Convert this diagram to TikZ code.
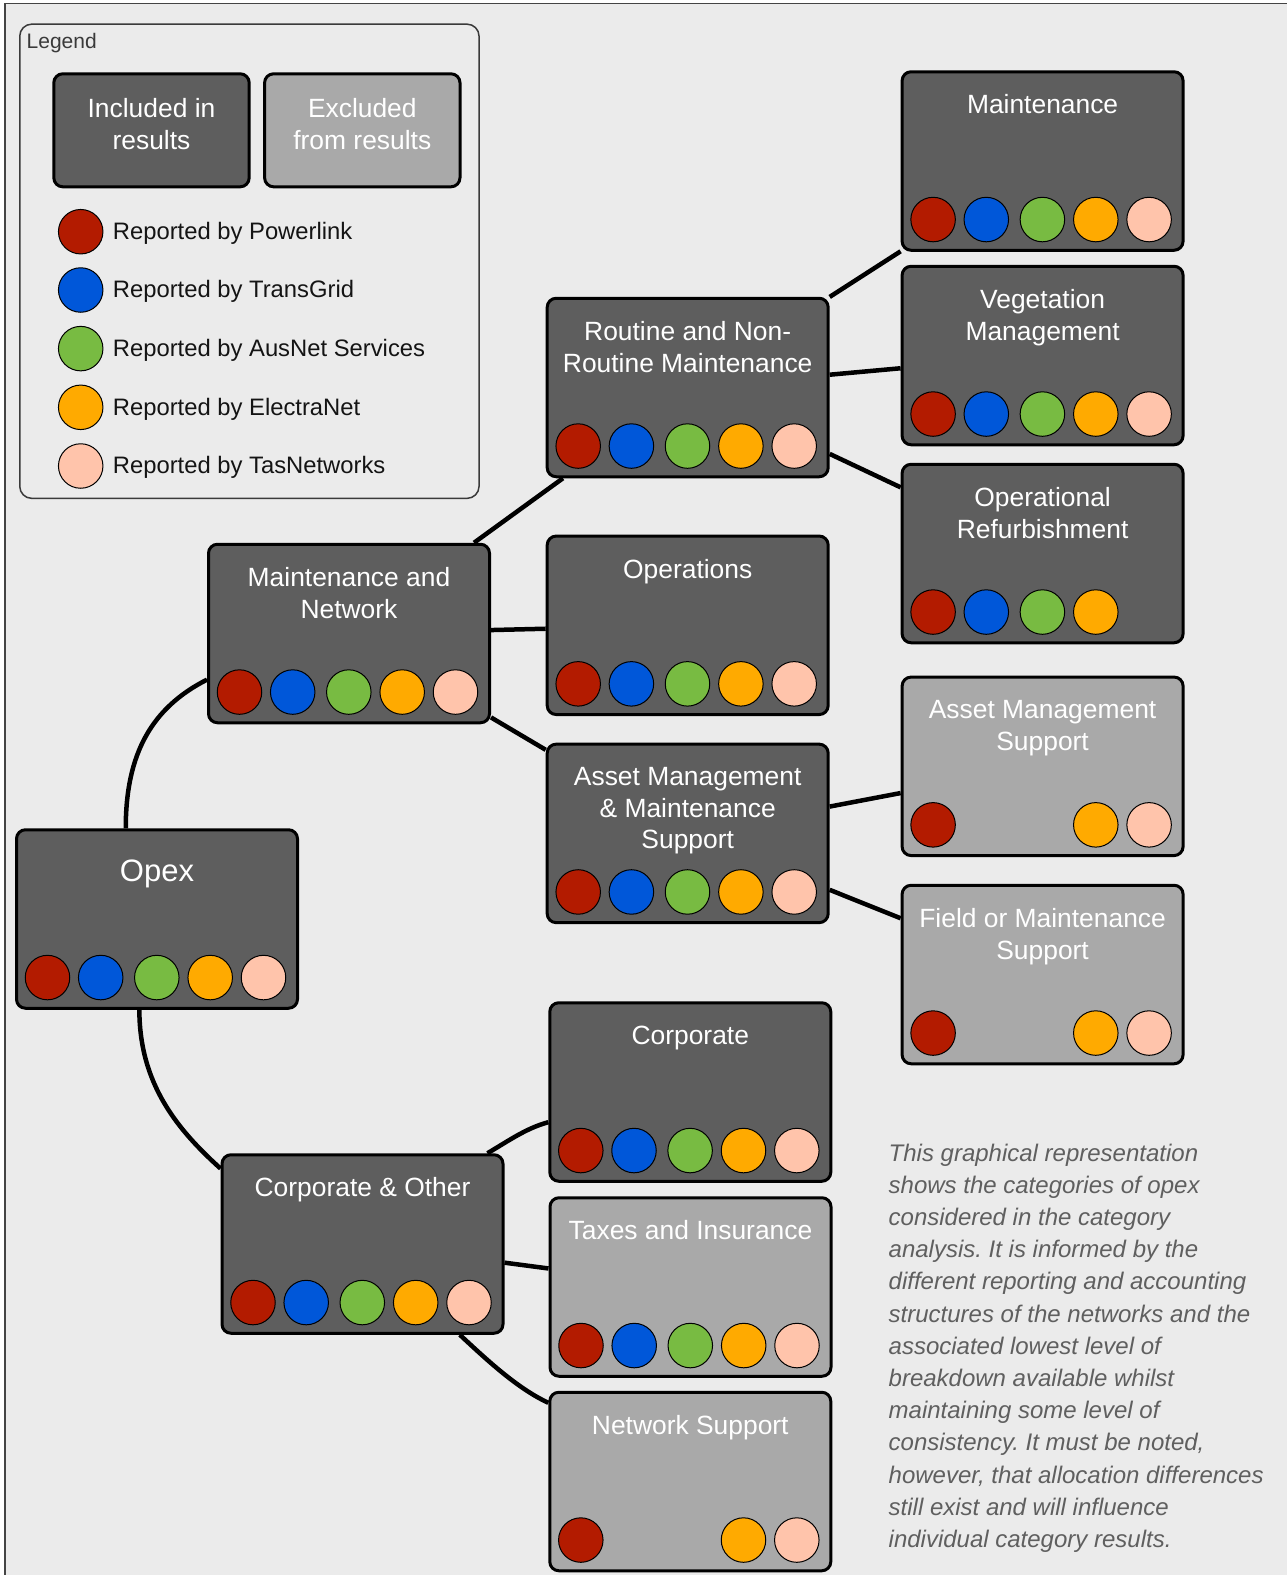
\documentclass[tikz,border=0pt]{standalone}
\usepackage{fontspec}
\setmainfont{Liberation Sans}
\usetikzlibrary{calc}
\pgfdeclarelayer{bg}
\pgfsetlayers{bg,main}
\frenchspacing
\definecolor{bgc}{HTML}{EBEBEB}
\definecolor{darkbox}{HTML}{5E5E5E}
\definecolor{lightbox}{HTML}{A9A9A9}
\definecolor{slot1}{HTML}{B31B00}
\definecolor{slot2}{HTML}{0057D9}
\definecolor{slot3}{HTML}{78BB42}
\definecolor{slot4}{HTML}{FFAA00}
\definecolor{slot5}{HTML}{FFC4AB}
\definecolor{paratext}{HTML}{5F5F5F}
\definecolor{leggray}{HTML}{3A3A3A}
\definecolor{framegray}{HTML}{444444}
\tikzset{
  catbox/.style={draw=black, line width=3pt, rounded corners=9pt, minimum width=281pt, minimum height=178.5pt, inner sep=0pt},
  incbox/.style={catbox, fill=darkbox},
  excbox/.style={catbox, fill=lightbox},
  boxtitle/.style={text=white, font=\fontsize{26.4}{31.8}\selectfont, align=center, inner sep=0pt, anchor=north},
  dot/.style={circle, draw=black, line width=1pt, minimum size=44.5pt, inner sep=0pt},
  link/.style={line width=4.5pt, draw=black},
  legtext/.style={anchor=base west, inner sep=0pt, text=black!92, font=\fontsize{23.8}{28}\selectfont},
}
\def\allfive{1/32.5,2/85.7,3/141.8,4/195.2,5/248.5}
\def\nopeach{1/32.5,2/85.7,3/141.8,4/195.2}
\def\rop{1/32.5,4/195.2,5/248.5}
\newcommand\dotrow[2]{\foreach \k/\xo in #2 {\node[dot, fill=slot\k] (#1-\k) at ([xshift=\xo pt, yshift=32.2pt]#1.south west) {};}}
\newcommand\catnode[5]{%
  \node[#2] (#1) at (#3) {};
  \node[boxtitle] (#1-t) at ([yshift=-24.3pt]#1.north) {#4};
  \dotrow{#1}{#5}}
\begin{document}
\begin{tikzpicture}[x=1pt,y=-1pt]
\useasboundingbox (0,0) rectangle (1287,1575);

% legend
\node[draw=leggray, line width=1.5pt, rounded corners=12pt, minimum width=459.3pt, minimum height=474.2pt, anchor=north west, inner sep=0pt] (legend) at (19,23.4) {};
\node[anchor=base west, inner sep=0pt, text=leggray, font=\fontsize{21}{25}\selectfont] (legend-t) at (26.5,48.5) {Legend};
\node[incbox, minimum width=195.4pt, minimum height=113pt] (leginc) at (151.5,130.3) {};
\node[boxtitle] (leginc-t) at ([yshift=-25.8pt]leginc.north) {Included in\\results};
\node[excbox, minimum width=195.4pt, minimum height=113pt] (legexc) at (362.3,130.3) {};
\node[boxtitle] (legexc-t) at ([yshift=-25.8pt]legexc.north) {Excluded\\from results};
\foreach \k/\yy/\lab in {1/231.7/Powerlink, 2/290/TransGrid, 3/348.6/AusNet Services, 4/407.3/ElectraNet, 5/466/TasNetworks} {
  \node[dot, fill=slot\k] (leg-\k) at (80.7,\yy) {};
  \node[legtext] (leg-\k-t) at (112.7,\yy+7.8) {Reported by \lab};
}

% category boxes
\node[incbox] (opex) at (157,919) {};
\node[boxtitle, font=\fontsize{31}{37}\selectfont] (opex-t) at ([yshift=-31pt]opex.north) {Opex};
\dotrow{opex}{\allfive}

\catnode{mn}{incbox}{349,633.5}{Maintenance and\\Network}{\allfive}
\catnode{co}{incbox}{362.5,1244}{Corporate \& Other}{\allfive}
\catnode{rt}{incbox}{687.7,387.5}{Routine and Non-\\Routine Maintenance}{\allfive}
\catnode{op}{incbox}{687.7,625.3}{Operations}{\allfive}
\catnode{amm}{incbox}{687.7,833.4}{Asset Management\\\& Maintenance\\Support}{\allfive}
\catnode{mt}{incbox}{1042.6,161}{Maintenance}{\allfive}
\catnode{veg}{incbox}{1042.6,355.5}{Vegetation\\Management}{\allfive}
\catnode{orf}{incbox}{1042.6,553.5}{Operational\\Refurbishment}{\nopeach}
\catnode{ams}{excbox}{1042.6,766.3}{Asset Management\\Support}{\rop}
\catnode{fms}{excbox}{1042.6,974.5}{Field or Maintenance\\Support}{\rop}
\catnode{corp}{incbox}{690.3,1092}{Corporate}{\allfive}
\catnode{tax}{excbox}{690.5,1287}{Taxes and Insurance}{\allfive}
\catnode{ns}{excbox}{690.3,1481.5}{Network Support}{\rop}

% note
\node[anchor=north west, align=left, inner sep=0pt, text=paratext, font=\itshape\fontsize{24}{32.2}\selectfont] (note) at (888.5,1143.5) {This graphical representation\\shows the categories of opex\\considered in the category\\analysis. It is informed by the\\different reporting and accounting\\structures of the networks and the\\associated lowest level of\\breakdown available whilst\\maintaining some level of\\consistency. It must be noted,\\however, that allocation differences\\still exist and will influence\\individual category results.};

\begin{pgfonlayer}{bg}
  \fill[white] (0,0) rectangle (1287,1575);
  \fill[bgc] (5,3.5) rectangle (1287,1575);
  \draw[line width=1.6pt, framegray] (5,1575) -- (5,3.5) -- (1287,3.5);
  \draw[link] (opex.109) .. controls +(0,-75) and +(-55,28) .. (mn.198);
  \draw[link] (opex.259) .. controls +(0,75) and +(-42,-38) .. (co.152);
  \draw[link] (mn) -- (rt);
  \draw[link] (mn) -- (op);
  \draw[link] (mn) -- (amm);
  \draw[link] (rt) -- (mt);
  \draw[link] (rt) -- (veg);
  \draw[link] (rt) -- (orf);
  \draw[link] (amm) -- (ams);
  \draw[link] (amm) -- (fms);
  \draw[link] (co.36) .. controls +(22,-13) and +(-22,6) .. (corp.192);
  \draw[link] (co) -- (tax);
  \draw[link] (co.-43) .. controls +(30,28) and +(-30,-14) .. (ns.151);
\end{pgfonlayer}
\end{tikzpicture}
\end{document}
